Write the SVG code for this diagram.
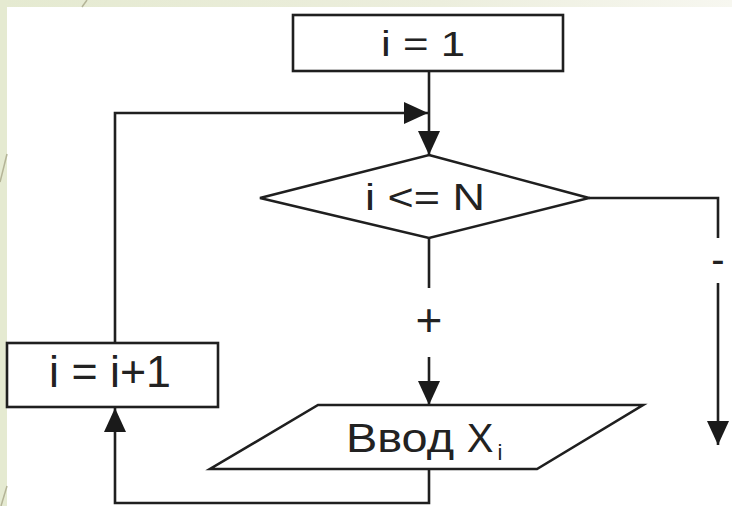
<svg xmlns="http://www.w3.org/2000/svg" width="732" height="506" viewBox="0 0 732 506">
  <defs>
    <linearGradient id="topBand" x1="0" y1="0" x2="1" y2="0">
      <stop offset="0" stop-color="#e5ead1"/>
      <stop offset="0.6" stop-color="#eceedd"/>
      <stop offset="1" stop-color="#f7f7f0"/>
    </linearGradient>
    <marker id="arrow" viewBox="0 0 24 22" refX="24" refY="11" markerWidth="24" markerHeight="22" markerUnits="userSpaceOnUse" orient="auto">
      <path d="M0,0 L24,11 L0,22 Z" fill="#1a1a1a"/>
    </marker>
  </defs>
  <style>
    .shape { fill: #ffffff; stroke: #1f1f1f; stroke-width: 2.6; }
    .line { fill: none; stroke: #1f1f1f; stroke-width: 2.6; }
    .lbl { font-family: "Liberation Sans", Arial, sans-serif; fill: #222222; text-anchor: middle; }
    .deco { stroke: #b4b497; stroke-width: 1.5; fill: none; }
  </style>

  <!-- slide background with frame bands -->
  <rect x="0" y="0" width="732" height="506" fill="#ffffff"/>
  <rect x="0" y="0" width="732" height="7" fill="url(#topBand)"/>
  <rect x="0" y="0" width="7" height="506" fill="#e5ead1"/>
  <line class="deco" x1="87" y1="0" x2="82" y2="7"/>
  <line class="deco" x1="7" y1="154" x2="0" y2="182"/>
  <line class="deco" x1="7" y1="486" x2="1" y2="506"/>

  <!-- connectors -->
  <g id="connectors">
    <path class="line" d="M429,71 V155" marker-end="url(#arrow)"/>
    <path class="line" d="M115,343 V113 H428" marker-end="url(#arrow)"/>
    <path class="line" d="M429,238 V288"/>
    <path class="line" d="M429,357 V405" marker-end="url(#arrow)"/>
    <path class="line" d="M589,198 H718 V238"/>
    <path class="line" d="M718,283 V445" marker-end="url(#arrow)"/>
    <path class="line" d="M429,469 V503 H115 V408" marker-end="url(#arrow)"/>
    <text class="lbl" x="429" y="336" font-size="46">+</text>
    <text class="lbl" x="718" y="273" font-size="40">-</text>
  </g>

  <g id="init">
    <rect class="shape" x="293" y="15" width="270" height="56"/>
    <text class="lbl" x="423" y="56" font-size="35" textLength="84" lengthAdjust="spacingAndGlyphs">i = 1</text>
  </g>

  <g id="condition">
    <polygon class="shape" points="429,155 589,198 429,238 260,198"/>
    <text class="lbl" x="425" y="210" font-size="36" textLength="120" lengthAdjust="spacingAndGlyphs">i &lt;= N</text>
  </g>

  <g id="increment">
    <rect class="shape" x="7" y="343" width="211" height="64"/>
    <text class="lbl" x="110" y="387" font-size="44" textLength="122" lengthAdjust="spacingAndGlyphs">i = i+1</text>
  </g>

  <g id="input">
    <polygon class="shape" points="318,405 643,405 537,469 210,469"/>
    <text class="lbl" x="400" y="452" font-size="40" textLength="108" lengthAdjust="spacingAndGlyphs">Ввод</text>
    <text class="lbl" x="480" y="452" font-size="40">X</text>
    <text class="lbl" x="500" y="460" font-size="22" fill="#666666">i</text>
  </g>
</svg>
